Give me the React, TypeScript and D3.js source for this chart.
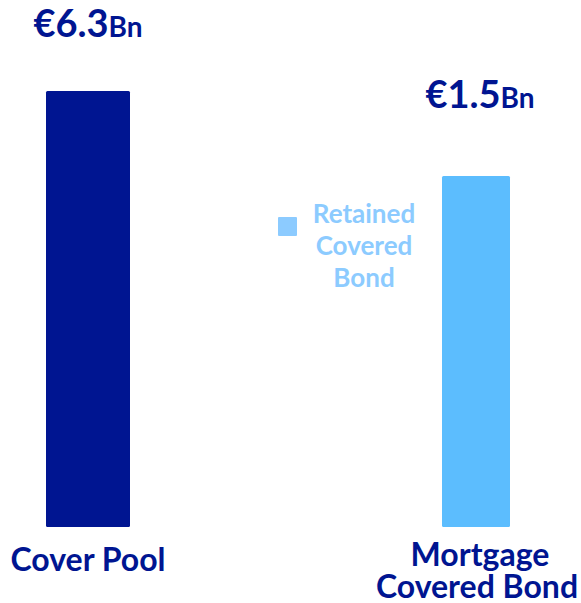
import * as d3 from 'd3';

const categories = ['Cover Pool', 'Mortgage Covered Bond'];
const values = [6.3, 1.5]; // € Bn
const valueLabels = ['€6.3', '€1.5'];
const unitLabel = 'Bn';
const legendLabel = ['Retained', 'Covered', 'Bond'];

const W = 581;
const H = 603;
const NAVY = '#001591';
const LIGHT = '#5cbdfe';
const LEGEND = '#8ccbff';
const FONT = 'Lato, "Open Sans", sans-serif';

export default function App() {
  // the original doesn't start its bars at zero, so the baseline sits below 0
  const y = d3.scaleLinear().domain([-18.3, 6.3]).range([527, 91]);
  const x = d3.scalePoint<string>().domain(categories).range([88, 476]);
  const barW = [84, 68];
  const colors = [NAVY, LIGHT];
  const labelGap = [54, 68];
  const labelDx = [0, 4];

  const x1 = x(categories[1]) ?? 0;

  return (
    <svg
      width={W}
      height={H}
      style={{ position: 'absolute', left: 0, top: 0, background: '#fff' }}
      fontFamily={FONT}
      fontWeight={700}
    >
      {categories.map((c, i) => {
        const cx = x(c) ?? 0;
        const top = y(values[i]);
        return (
          <g key={c}>
            <rect
              x={cx - barW[i] / 2}
              y={top}
              width={barW[i]}
              height={y.range()[0] - top}
              fill={colors[i]}
              rx={1.5}
            />
            <text
              x={cx + labelDx[i]}
              y={top - labelGap[i]}
              textAnchor="middle"
              fill={NAVY}
            >
              <tspan fontSize={38}>{valueLabels[i]}</tspan>
              <tspan fontSize={28}>{unitLabel}</tspan>
            </text>
          </g>
        );
      })}

      {/* category labels */}
      <text x={x(categories[0]) ?? 0} y={571} textAnchor="middle" fill={NAVY} fontSize={32}>
        {categories[0]}
      </text>
      <text textAnchor="middle" fill={NAVY} fontSize={32}>
        <tspan x={x1 + 4} y={566}>Mortgage</tspan>
        <tspan x={x1 + 1} y={598}>Covered Bond</tspan>
      </text>

      {/* legend */}
      <rect x={278} y={217} width={19} height={19} fill={LEGEND} rx={1} />
      <text textAnchor="middle" fill={LEGEND} fontSize={26}>
        {legendLabel.map((t, i) => (
          <tspan key={t} x={364} y={223 + i * 32}>
            {t}
          </tspan>
        ))}
      </text>
    </svg>
  );
}
